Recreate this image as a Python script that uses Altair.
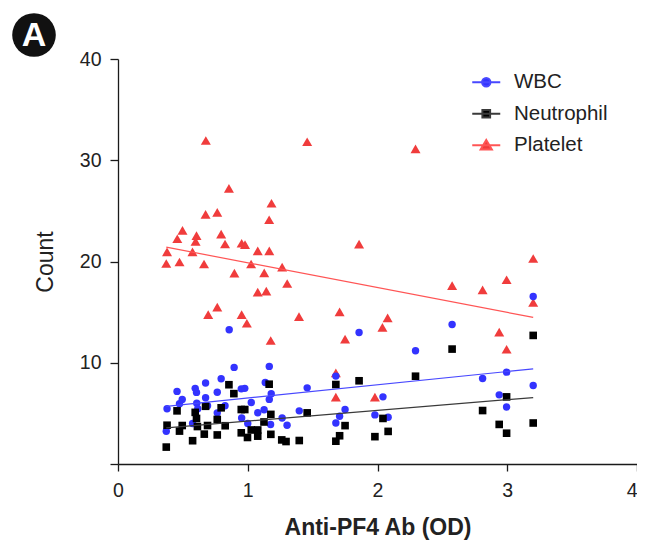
import altair as alt
import pandas as pd

FONT = "Liberation Sans"
SERIES = ["WBC", "Neutrophil", "Platelet"]
X_TICKS = [0, 1, 2, 3, 4]
Y_TICKS = [0, 10, 20, 30, 40]

# ---- data ----
plt_x = [0.372, 0.378, 0.457, 0.474, 0.497, 0.574, 0.598, 0.605, 0.663, 0.677,
         0.675, 0.695, 0.765, 0.765, 0.795, 0.825, 0.855, 0.897, 0.953, 0.979,
         0.953, 0.993, 1.026, 1.077, 1.077, 1.143, 1.127, 1.166, 1.165, 1.183,
         1.177, 1.265, 1.304, 1.395, 1.458, 1.679, 1.679, 1.708, 1.750, 1.858,
         1.980, 2.038, 2.078, 2.293, 2.575, 2.810, 2.938, 2.995, 2.995, 3.200, 3.200]
plt_y = [19.8, 20.95, 22.25, 19.95, 23.07, 20.95, 21.99, 22.55, 19.75, 31.95,
         24.65, 14.75, 24.85, 15.5, 22.7, 21.73, 27.23, 18.85, 21.8, 21.66,
         14.75, 13.9, 19.75, 21.05, 16.98, 17.07, 18.88, 21.05, 24.12, 25.75,
         12.2, 19.45, 17.83, 14.55, 31.83, 9.0, 6.6, 15.02, 12.33, 21.72,
         6.6, 13.5, 14.43, 31.12, 17.62, 17.2, 13.02, 18.2, 11.33, 20.3, 15.95]

wbc_x = [0.378, 0.372, 0.455, 0.474, 0.495, 0.575, 0.595, 0.605, 0.607, 0.615,
         0.675, 0.675, 0.690, 0.765, 0.765, 0.795, 0.825, 0.857, 0.895, 0.950,
         0.977, 0.953, 1.000, 1.027, 1.077, 1.135, 1.126, 1.166, 1.181, 1.166,
         1.176, 1.265, 1.303, 1.397, 1.458, 1.679, 1.679, 1.708, 1.750, 1.858,
         1.980, 2.042, 2.082, 2.293, 2.575, 2.810, 2.938, 2.995, 2.995, 3.200, 3.200]
wbc_y = [5.46, 3.24, 7.17, 5.95, 6.38, 4.0, 7.47, 7.07, 6.0, 5.45,
         8.0, 6.55, 5.75, 7.08, 5.05, 8.42, 5.76, 13.26, 9.54, 7.42,
         7.47, 4.54, 4.0, 6.08, 5.06, 8.05, 5.36, 9.64, 6.95, 6.38,
         3.9, 4.55, 3.83, 5.25, 7.52, 8.68, 4.05, 4.71, 5.38, 12.98,
         4.85, 6.63, 4.62, 11.18, 13.77, 8.44, 6.83, 9.07, 5.63, 16.55, 7.75]

neu_x = [0.372, 0.378, 0.455, 0.474, 0.495, 0.575, 0.595, 0.605, 0.612, 0.665,
         0.675, 0.690, 0.765, 0.765, 0.795, 0.826, 0.855, 0.893, 0.950, 0.977,
         0.950, 0.998, 1.027, 1.077, 1.077, 1.125, 1.165, 1.178, 1.178, 1.262,
         1.295, 1.397, 1.458, 1.679, 1.679, 1.708, 1.750, 1.858, 1.980, 2.042,
         2.082, 2.293, 2.575, 2.810, 2.938, 2.995, 2.995, 3.200, 3.200]
neu_y = [1.67, 3.83, 5.25, 3.25, 3.8, 2.3, 5.1, 4.5, 3.7, 2.95,
         5.7, 3.8, 2.87, 4.4, 5.55, 3.78, 7.83, 6.95, 5.38, 5.38,
         3.08, 2.62, 3.36, 3.36, 2.75, 4.15, 7.88, 4.9, 2.93, 2.38,
         2.22, 2.32, 5.05, 7.85, 2.25, 2.79, 3.79, 8.22, 2.7, 4.5,
         3.22, 8.67, 11.35, 5.28, 3.91, 6.63, 3.04, 12.7, 4.05]

rows = []
for name, xs, ys in [("Platelet", plt_x, plt_y), ("WBC", wbc_x, wbc_y),
                     ("Neutrophil", neu_x, neu_y)]:
    for a, b in zip(xs, ys):
        rows.append({"series": name, "od": a, "count": b})
df = pd.DataFrame(rows)

x_enc = alt.X("od:Q", scale=alt.Scale(domain=[0, 4], nice=False),
              axis=alt.Axis(values=X_TICKS, title="Anti-PF4 Ab (OD)", tickSize=7,
                            labelPadding=10, titlePadding=17, titleFontWeight="bold",
                            format="d",
                            labelAlign={"condition": {"test": "datum.value == 4",
                                                      "value": "right"},
                                        "value": "center"}))
y_enc = alt.Y("count:Q", scale=alt.Scale(domain=[0, 40], nice=False),
              axis=alt.Axis(values=Y_TICKS, title="Count", tickSize=8, labelPadding=9,
                            titlePadding=22, titleFontWeight="normal",
                            labelExpr="datum.value == 0 ? '' : datum.label"))

fill_scale = alt.Scale(domain=SERIES, range=["#3333ff", "#000000", "#f03c3c"])
line_scale = alt.Scale(domain=SERIES, range=["#4848ff", "#3a3a3a", "#ff5555"])
legend_paths = [
    "M-2,0L2,0M0.6,0A0.6,0.6,0,1,1,-0.6,0A0.6,0.6,0,1,1,0.6,0Z",
    "M-2,0L2,0M-0.55,-0.55L0.55,-0.55L0.55,0.55L-0.55,0.55Z",
    "M-2,0L2,0M0,-0.75L0.8,0.6L-0.8,0.6Z",
]
shape_scale = alt.Scale(domain=SERIES, range=legend_paths)

def series_points(name, shape, size, color):
    return alt.Chart(df[df.series == name]).mark_point(
        filled=True, shape=shape, size=size, color=color, opacity=1, strokeWidth=0
    ).encode(x=x_enc, y=y_enc)

p_plt = series_points("Platelet", "triangle-up", 100, "#f03c3c")
p_wbc = series_points("WBC", "circle", 55, "#3333ff")
p_neu = series_points("Neutrophil", "square", 58, "#000000")

lines = alt.Chart(df).transform_regression(
    "od", "count", groupby=["series"]
).mark_line(strokeWidth=1.2).encode(
    x=x_enc, y=y_enc,
    stroke=alt.Stroke("series:N", scale=line_scale, legend=None),
)

leg = dict(title=None, orient="none", legendX=358, legendY=13, padding=0,
           labelFont=FONT, labelFontSize=20.5, labelColor="#222", labelOffset=17.5,
           rowPadding=10.5, symbolSize=196, symbolStrokeWidth=2, symbolOpacity=1)

# invisible marks whose only job is to carry the legend (line + marker symbols)
legend_layer = alt.Chart(df).mark_point(
    filled=True, opacity=0, size=196, strokeWidth=2
).encode(
    x=x_enc, y=y_enc,
    color=alt.Color("series:N", scale=fill_scale, legend=alt.Legend(**leg)),
    stroke=alt.Stroke("series:N", scale=line_scale, legend=alt.Legend(**leg)),
    shape=alt.Shape("series:N", scale=shape_scale, legend=alt.Legend(**leg)),
)

badge_df = pd.DataFrame({"label": ["A"]})
badge_circle = alt.Chart(badge_df).mark_circle(size=1900, color="#111111", opacity=1).encode(
    x=alt.value(-84), y=alt.value(-24))
badge_text = alt.Chart(badge_df).mark_text(
    fontSize=34, fontWeight="bold", color="white", font=FONT, align="center",
    baseline="middle").encode(x=alt.value(-84), y=alt.value(-23), text="label:N")

chart = alt.layer(legend_layer, p_plt, p_wbc, p_neu, lines, badge_circle, badge_text).properties(
    width=519, height=405,
    autosize=alt.AutoSizeParams(type="none"),
    padding={"left": 110, "top": 51, "right": 0, "bottom": 76},
).configure_view(stroke=None).configure_axis(
    grid=False, domainColor="#1a1a1a", domainWidth=1.3, tickColor="#1a1a1a",
    tickWidth=1.3, labelFont=FONT, labelFontSize=19.5, labelColor="#222",
    titleFont=FONT, titleFontSize=23, titleColor="#222",
)

chart.save("out.html", embed_options={"renderer": "svg", "actions": False})
